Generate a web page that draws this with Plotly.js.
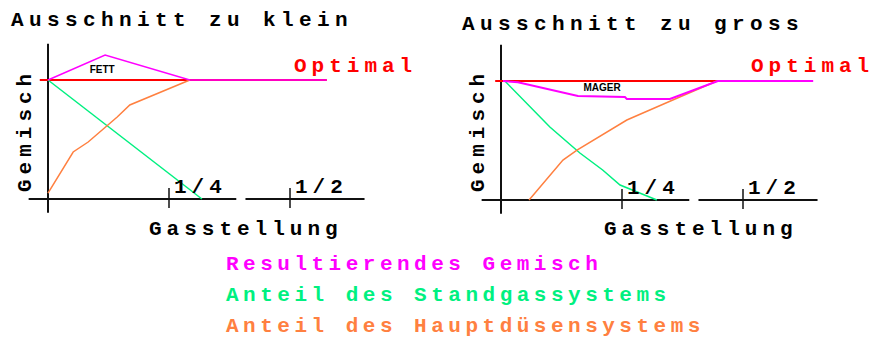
<!DOCTYPE html>
<html>
<head>
<meta charset="utf-8">
<script src="https://cdn.plot.ly/plotly-3.0.1.min.js"></script>
<style>
  html, body { margin: 0; padding: 0; background: #fff; }
  #chart { width: 874px; height: 341px; }
  text.annotation-text { letter-spacing: 5px; }
  g.annotation[data-index="0"] text, g.annotation[data-index="1"] text { letter-spacing: 5.4px; }
  g.annotation[data-index="8"] text, g.annotation[data-index="9"] text,
  g.annotation[data-index="10"] text { letter-spacing: 4.5px; }
</style>
</head>
<body>
<div id="chart"></div>
<script>
// Gasstellung (x, 1/4 = 0.25) vs. Gemisch (y, optimal = 1)
const tickVals   = [0.25, 0.5];
const tickLabels = ['1/4', '1/2'];

// Ausschnitt zu klein
const kleinOptX   = [-0.017, 0.576];
const kleinOptY   = [1, 1];
const kleinMixX   = [0, 0.118, 0.293, 0.576];
const kleinMixY   = [1, 1.21, 1.0, 1.0];
const kleinStandX = [0, 0.318];
const kleinStandY = [1, 0];
const kleinHauptX = [0, 0.052, 0.083, 0.143, 0.169, 0.293];
const kleinHauptY = [0.05, 0.395, 0.479, 0.689, 0.79, 1.0];

// Ausschnitt zu gross
const grossOptX   = [-0.012, 0.638];
const grossOptY   = [1, 1];
const grossMixX   = [0.004, 0.035, 0.159, 0.256, 0.26, 0.349, 0.448, 0.645];
const grossMixY   = [1, 0.99, 0.874, 0.866, 0.849, 0.849, 1.0, 1.0];
const grossStandX = [0.008, 0.101, 0.163, 0.21, 0.246, 0.322];
const grossStandY = [1, 0.613, 0.395, 0.252, 0.126, 0];
const grossHauptX = [0.058, 0.081, 0.128, 0.157, 0.26, 0.355, 0.446];
const grossHauptY = [0, 0.109, 0.336, 0.42, 0.672, 0.84, 1.0];

const legendNames = ['Resultierendes Gemisch', 'Anteil des Standgassystems', 'Anteil des Hauptdüsensystems'];

const C_MIX = '#ff00ff', C_STAND = '#00f080', C_HAUPT = '#ff8040', C_OPT = '#ff0000';
const W = 874, H = 341;
const BIG = { family: '"Liberation Mono", "DejaVu Sans Mono", monospace', size: 21 };

function line(x, y, color, width, xa, ya) {
  return { x, y, xaxis: xa, yaxis: ya, type: 'scatter', mode: 'lines',
           line: { color, width }, hoverinfo: 'skip', showlegend: false };
}

const traces = [
  line(kleinOptX, kleinOptY, C_OPT, 2, 'x', 'y'),
  line(kleinStandX, kleinStandY, C_STAND, 1.5, 'x', 'y'),
  line(kleinHauptX, kleinHauptY, C_HAUPT, 1.5, 'x', 'y'),
  line(kleinMixX, kleinMixY, C_MIX, 1.5, 'x', 'y'),
  line(grossOptX, grossOptY, C_OPT, 2, 'x2', 'y2'),
  line(grossStandX, grossStandY, C_STAND, 1.5, 'x2', 'y2'),
  line(grossHauptX, grossHauptY, C_HAUPT, 1.5, 'x2', 'y2'),
  line(grossMixX, grossMixY, C_MIX, 2, 'x2', 'y2'),
  { x: [0.112], y: [1.084], xaxis: 'x', yaxis: 'y', type: 'scatter', mode: 'text',
    text: ['<b>FETT</b>'], textfont: { family: '"Liberation Sans", Arial', size: 10, color: '#000' },
    hoverinfo: 'skip', showlegend: false },
  { x: [0.209], y: [0.933], xaxis: 'x2', yaxis: 'y2', type: 'scatter', mode: 'text',
    text: ['<b>MAGER</b>'], textfont: { family: '"Liberation Sans", Arial', size: 10, color: '#000' },
    hoverinfo: 'skip', showlegend: false },
];

// axes drawn as shapes: y axis, broken x axis, ticks
const shapes = [];
[['x', 'y'], ['x2', 'y2']].forEach(([xr, yr]) => {
  const ax = { type: 'line', xref: xr, yref: yr, line: { color: '#111', width: 2 }, layer: 'below' };
  shapes.push({ ...ax, x0: 0, x1: 0, y0: -0.115, y1: 1.305 });
  shapes.push({ ...ax, x0: -0.04, x1: 0.389, y0: 0, y1: 0 });
  shapes.push({ ...ax, x0: 0.408, x1: 0.654, y0: 0, y1: 0 });
  tickVals.forEach(v => shapes.push({ ...ax, line: { color: '#111', width: 1.5 }, x0: v, x1: v, y0: -0.076, y1: 0.092 }));
});

function ann(text, px, py, color, extra) {
  return Object.assign({ text: '<b>' + text + '</b>', x: px / W, y: 1 - py / H, xref: 'paper', yref: 'paper',
    xanchor: 'left', yanchor: 'middle', align: 'left', showarrow: false, font: { ...BIG, color } }, extra || {});
}

const annotations = [
  ann('Ausschnitt zu klein', 9, 21, '#000'),
  ann('Ausschnitt zu gross', 460, 24, '#000'),
  ann('Optimal', 292, 66, C_OPT),
  ann('Optimal', 749, 66, C_OPT),
  ann('Gemisch', 25, 131, '#000', { xanchor: 'center', align: 'center', textangle: -90 }),
  ann('Gemisch', 478, 131, '#000', { xanchor: 'center', align: 'center', textangle: -90 }),
  ann('Gasstellung', 147, 229, '#000'),
  ann('Gasstellung', 602, 229, '#000'),
  ann(legendNames[0], 224, 264, C_MIX),
  ann(legendNames[1], 224, 295, C_STAND),
  ann(legendNames[2], 224, 326, C_HAUPT),
];
[['x', 'y'], ['x2', 'y2']].forEach(([xr, yr]) => {
  tickVals.forEach((v, i) => annotations.push({
    text: '<b>' + tickLabels[i] + '</b>', x: v, y: 0.1, xref: xr, yref: yr, xanchor: 'left', yanchor: 'middle',
    align: 'left', xshift: 3, showarrow: false, font: { ...BIG, color: '#000' } }));
});

const hidden = { visible: false, fixedrange: true };
const layout = {
  width: W, height: H,
  margin: { l: 0, r: 0, t: 0, b: 0 },
  paper_bgcolor: '#fff', plot_bgcolor: '#fff',
  xaxis:  { ...hidden, domain: [0, 1], range: [-48 / 484, 826 / 484] },
  yaxis:  { ...hidden, domain: [0, 1], range: [-142 / 119, 199 / 119] },
  xaxis2: { ...hidden, domain: [0, 1], range: [-501 / 484, 373 / 484], overlaying: 'x' },
  yaxis2: { ...hidden, domain: [0, 1], range: [-141 / 119, 200 / 119], overlaying: 'y' },
  shapes, annotations,
  showlegend: false,
};

Plotly.newPlot('chart', traces, layout, { staticPlot: true, displayModeBar: false });
</script>
</body>
</html>
